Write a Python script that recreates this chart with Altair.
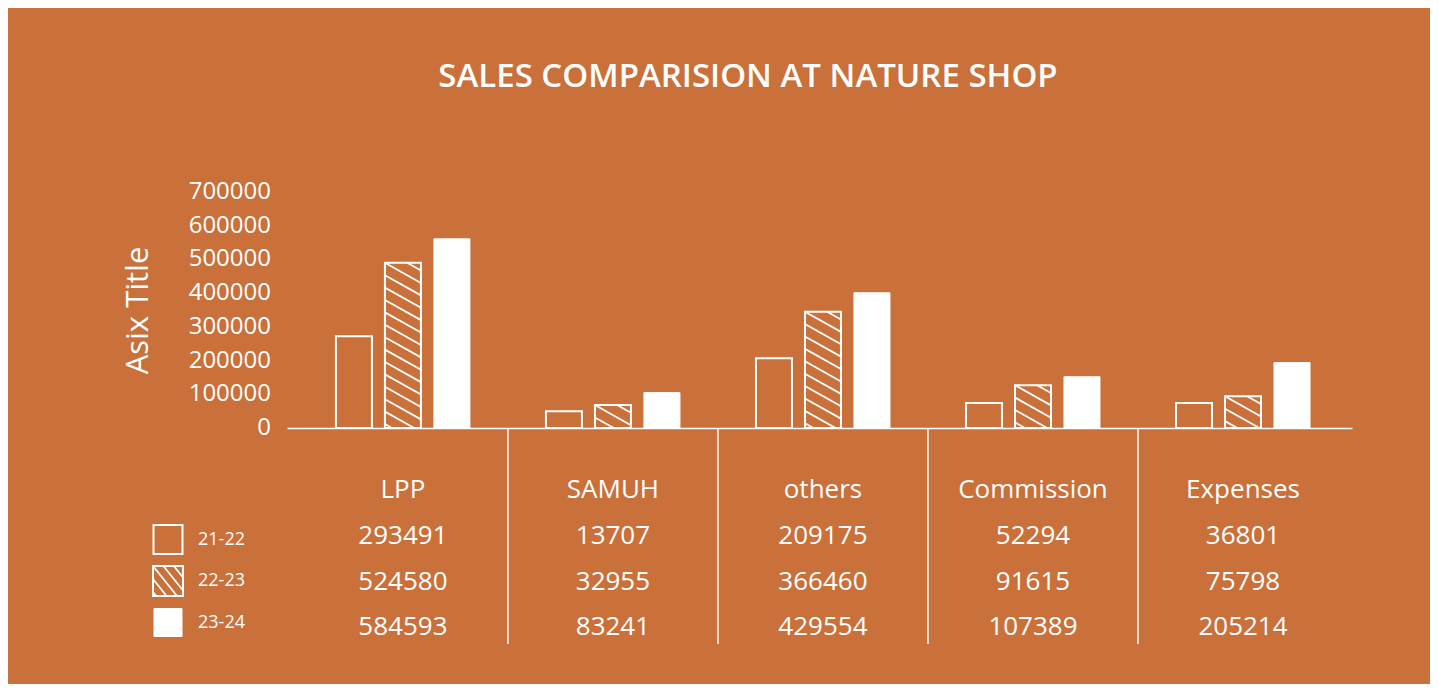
import math
import altair as alt
import pandas as pd

# ---------------- data ----------------
categories = ["LPP", "SAMUH", "others", "Commission", "Expenses"]
series = ["21-22", "22-23", "23-24"]

# bar heights as drawn against the y axis
bars_21_22 = [272000, 50000, 207000, 74000, 74000]
bars_22_23 = [490000, 68000, 345000, 127000, 94000]
bars_23_24 = [561000, 105000, 401000, 152000, 194000]

# values printed in the data table under the chart
table_21_22 = [293491, 13707, 209175, 52294, 36801]
table_22_23 = [524580, 32955, 366460, 91615, 75798]
table_23_24 = [584593, 83241, 429554, 107389, 205214]

y_ticks = [0, 100000, 200000, 300000, 400000, 500000, 600000, 700000]

# ---------------- layout / style ----------------
BG = "#C9703B"
WHITE = "#FFFFFF"
FONT = "Open Sans"
W, H = 1065, 236
PAD = {"left": 279, "top": 184, "right": 78, "bottom": 256}
X_DOMAIN = [-0.552, 4.519]
Y_DOMAIN = [0, 700000]
PX_X = W / (X_DOMAIN[1] - X_DOMAIN[0])
PX_Y = H / (Y_DOMAIN[1] - Y_DOMAIN[0])
BAR_W_PX, BAR_STEP_PX = 36, 49

xs = alt.Scale(domain=X_DOMAIN, nice=False, zero=False)
ys = alt.Scale(domain=Y_DOMAIN, nice=False, zero=True)

bar_values = [bars_21_22, bars_22_23, bars_23_24]
table_values = [table_21_22, table_22_23, table_23_24]

rows = []
for j, s in enumerate(series):
    for i, c in enumerate(categories):
        center = i + (j - 1) * BAR_STEP_PX / PX_X
        rows.append({
            "category": c, "series": s, "value": bar_values[j][i], "base": 0,
            "x0": center - BAR_W_PX / 2 / PX_X, "x1": center + BAR_W_PX / 2 / PX_X,
        })
bars_df = pd.DataFrame(rows)


def hatch_local(w, h, slope, spacing):
    """segments of '\\' hatch lines inside a w x h box (local px, v downward)"""
    segs = []
    k0 = math.ceil(-slope * w / spacing)
    k1 = math.floor(h / spacing)
    for k in range(k0, k1 + 1):
        c = k * spacing
        umin = max(0.0, -c / slope)
        umax = min(w, (h - c) / slope)
        if umax - umin > 0.8:
            segs.append((umin, c + slope * umin, umax, c + slope * umax))
    return segs


# hatch lines for the 22-23 bars, in data units
hrows = []
for _, r in bars_df[bars_df["series"] == "22-23"].iterrows():
    h_px = r["value"] * PX_Y
    for (u1, v1, u2, v2) in hatch_local(BAR_W_PX, h_px, 0.56, 12.4):
        hrows.append({
            "hx1": r["x0"] + u1 / PX_X, "hx2": r["x0"] + u2 / PX_X,
            "hy1": r["value"] - v1 / PX_Y, "hy2": r["value"] - v2 / PX_Y,
        })
hatch_df = pd.DataFrame(hrows)

# ---------------- bars ----------------
x_axis = alt.Axis(title=None, labels=False, ticks=False, grid=False, domain=True,
                  domainColor=WHITE, domainWidth=1.5)
y_axis = alt.Axis(title="Asix Title", labels=False, grid=False, ticks=False,
                  domain=False, titleColor=WHITE, titleFont=FONT,
                  titleFontSize=31, titleFontWeight="normal", titleX=-149, titleY=H / 2,
                  titleAlign="center", titleBaseline="middle")

outline = alt.Chart(bars_df).transform_filter(
    alt.datum.series != "23-24"
).mark_rect(fill=BG, stroke=WHITE, strokeWidth=2).encode(
    x=alt.X("x0:Q", scale=xs, axis=x_axis),
    x2="x1:Q",
    y=alt.Y("value:Q", scale=ys, axis=y_axis),
    y2="base:Q",
)

solid = alt.Chart(bars_df).transform_filter(
    alt.datum.series == "23-24"
).mark_rect(fill=WHITE, stroke=WHITE, strokeWidth=1).encode(
    x=alt.X("x0:Q", scale=xs), x2="x1:Q",
    y=alt.Y("value:Q", scale=ys), y2="base:Q",
)

hatch = alt.Chart(hatch_df).mark_rule(color=WHITE, strokeWidth=1.8).encode(
    x=alt.X("hx1:Q", scale=xs), x2="hx2:Q",
    y=alt.Y("hy1:Q", scale=ys), y2="hy2:Q",
)

# y tick labels placed through the y scale
tick_df = pd.DataFrame({"v": y_ticks, "label": [str(v) for v in y_ticks]})
tick_labels = alt.Chart(tick_df).mark_text(
    font=FONT, fontSize=24, color=WHITE, align="right", baseline="middle"
).encode(y=alt.Y("v:Q", scale=ys), x=alt.value(-16), text="label:N")

# ---------------- data table ----------------
sep_df = pd.DataFrame({"b": [i + 0.5 for i in range(len(categories) - 1)]})
separators = alt.Chart(sep_df).mark_rule(color=WHITE, strokeWidth=1.5).encode(
    x=alt.X("b:Q", scale=xs), y=alt.value(H), y2=alt.value(H + 216),
)

cat_df = pd.DataFrame({"i": list(range(len(categories))), "name": categories})
header = alt.Chart(cat_df).mark_text(
    font=FONT, fontSize=26, color=WHITE, align="center", baseline="middle"
).encode(x=alt.X("i:Q", scale=xs), y=alt.value(298), text="name:N")

row_y = [344, 390, 435]
table_layers = []
for j, s in enumerate(series):
    df = pd.DataFrame({"i": list(range(len(categories))),
                       "label": [str(v) for v in table_values[j]]})
    table_layers.append(
        alt.Chart(df).mark_text(
            font=FONT, fontSize=26, color=WHITE, align="center", baseline="middle"
        ).encode(x=alt.X("i:Q", scale=xs), y=alt.value(row_y[j]), text="label:N")
    )

# ---------------- legend ----------------
leg_cx = -119
leg_cy = [347.5, 389, 430.5]
leg_size = [29, 30, 28]
leg_layers = []
for j, s in enumerate(series):
    half = leg_size[j] / 2
    fill = WHITE if j == 2 else BG
    leg_layers.append(
        alt.Chart(pd.DataFrame({"s": [s]})).mark_rect(
            fill=fill, stroke=WHITE, strokeWidth=2 if j < 2 else 1
        ).encode(x=alt.value(leg_cx - half), x2=alt.value(leg_cx + half),
                 y=alt.value(leg_cy[j] - half), y2=alt.value(leg_cy[j] + half))
    )
    leg_layers.append(
        alt.Chart(pd.DataFrame({"s": [s]})).mark_text(
            font=FONT, fontSize=18, color=WHITE, align="left", baseline="middle"
        ).encode(x=alt.value(-89), y=alt.value(leg_cy[j]), text="s:N")
    )
# hatch inside the 22-23 legend square
lx0, ly0 = leg_cx - leg_size[1] / 2, leg_cy[1] - leg_size[1] / 2
for (u1, v1, u2, v2) in hatch_local(leg_size[1], leg_size[1], 1.25, 13):
    leg_layers.append(
        alt.Chart(pd.DataFrame({"s": ["22-23"]})).mark_rule(color=WHITE, strokeWidth=1.8).encode(
            x=alt.value(lx0 + u1), x2=alt.value(lx0 + u2),
            y=alt.value(ly0 + v1), y2=alt.value(ly0 + v2))
    )

chart = alt.layer(
    outline, solid, hatch, tick_labels, separators, header, *table_layers, *leg_layers
).properties(
    width=W, height=H,
    padding=PAD,
    autosize=alt.AutoSizeParams(type="none"),
    background=BG,
    title=alt.TitleParams(
        "SALES COMPARISION AT NATURE SHOP", anchor="middle", frame="group",
        dx=-71.5, offset=86, font=FONT, fontSize=33, fontWeight=600, color=WHITE,
    ),
).configure_view(stroke=None)

chart.save("out.html", embed_options={"renderer": "svg", "actions": False})
